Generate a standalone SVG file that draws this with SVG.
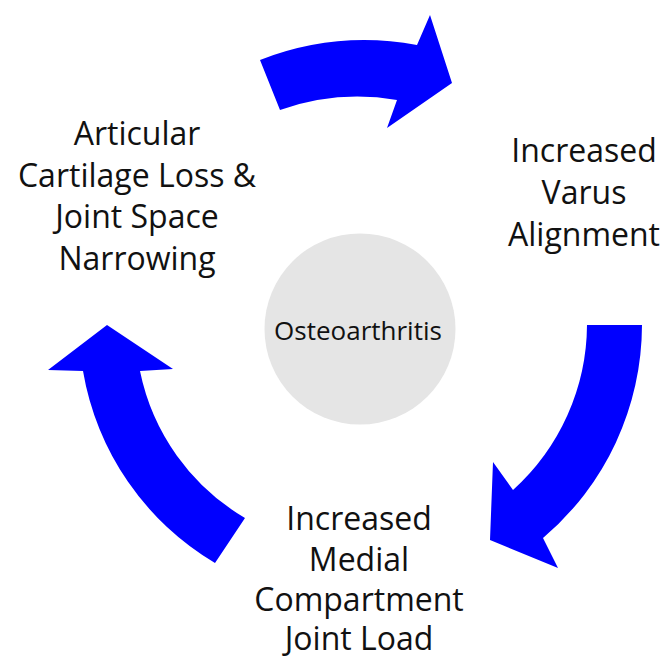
<svg xmlns="http://www.w3.org/2000/svg" width="668" height="658" viewBox="0 0 668 658">
<style>
  .lbl { font-family: "Open Sans", "Liberation Sans", sans-serif; font-size: 32px; fill: #111; text-anchor: middle; }
  .core { font-family: "Open Sans", "Liberation Sans", sans-serif; font-size: 26px; fill: #111; text-anchor: middle; }
  .arrow { fill: #0000ff; stroke: none; }
</style>
<rect width="668" height="658" fill="#ffffff"/>
<g id="center">
  <circle cx="360" cy="329" r="95.5" fill="#e5e5e5"/>
  <text class="core" x="358" y="340">Osteoarthritis</text>
</g>
<g id="node-cartilage">
  <text class="lbl" x="137" y="145">Articular</text>
  <text class="lbl" x="137" y="187">Cartilage Loss &amp;</text>
  <text class="lbl" x="137" y="228">Joint Space</text>
  <text class="lbl" x="137" y="270">Narrowing</text>
</g>
<g id="node-varus">
  <text class="lbl" x="584" y="162">Increased</text>
  <text class="lbl" x="584" y="204">Varus</text>
  <text class="lbl" x="584" y="246">Alignment</text>
</g>
<g id="node-load">
  <text class="lbl" x="359" y="530">Increased</text>
  <text class="lbl" x="359" y="571">Medial</text>
  <text class="lbl" x="359" y="611">Compartment</text>
  <text class="lbl" x="359" y="650">Joint Load</text>
</g>
<g id="connectors">
  <path class="arrow" d="M 260,60 A 289 289 0 0 1 417,45 L 430,15 L 452,83 L 387,128 L 397,100 A 233 233 0 0 0 280,110 Z"/>
  <path class="arrow" d="M 587,325 L 642,325 A 280 280 0 0 1 543,538 L 558,568 L 490,540 L 493,462 L 513,490 A 224 224 0 0 0 587,325 Z"/>
  <path class="arrow" d="M 215,563 A 277 277 0 0 1 83,371 L 48,370 L 107,325 L 173,369 L 140,371 A 222 222 0 0 0 245,518 Z"/>
</g>
</svg>
